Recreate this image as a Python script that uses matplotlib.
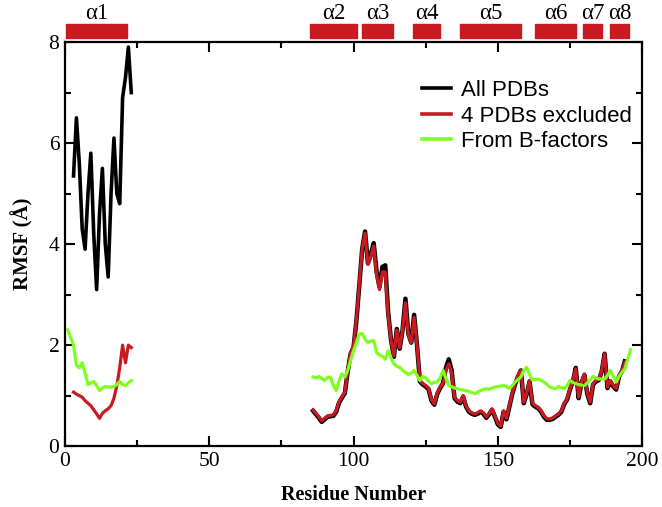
import numpy as np
import matplotlib
matplotlib.use('Agg')
import matplotlib.pyplot as plt
from matplotlib.patches import Rectangle
from matplotlib.ticker import MultipleLocator

# RMSF per residue, N-terminal segment
all_left = [5.35, 6.5, 5.6, 4.3, 3.9, 5.0, 5.8, 4.2, 3.1, 4.6, 5.5,
            4.0, 3.35, 5.0, 6.1, 5.0, 4.8, 6.9, 7.3, 7.9, 7.0]
excl_left = [1.07, 1.03, 1.0, 0.97, 0.9, 0.85, 0.8, 0.72, 0.64, 0.55, 0.65,
             0.7, 0.74, 0.8, 0.95, 1.2, 1.55, 2.0, 1.65, 2.0, 1.95]
bfac_left = [2.3, 2.15, 2.0, 1.6, 1.55, 1.65, 1.45, 1.22, 1.25, 1.28, 1.2, 1.1,
             1.15, 1.18, 1.17, 1.17, 1.18, 1.22, 1.28, 1.22, 1.2, 1.25, 1.3]

# RMSF per residue from residue 86 on
excl_mid = [0.72, 0.65, 0.58, 0.50, 0.55, 0.60, 0.61, 0.62, 0.70, 0.88,
            0.98, 1.07, 1.50, 1.85, 1.97, 2.50, 3.20, 3.90, 4.22, 3.60,
            3.75, 3.96, 3.40, 3.10, 3.45, 3.45, 2.60, 2.10, 1.79, 2.30,
            1.95, 2.30, 2.84, 2.20, 2.05, 2.55, 2.00, 1.30, 1.24, 1.20,
            1.15, 0.92, 0.84, 1.05, 1.17, 1.24, 1.50, 1.63, 1.45, 0.97,
            0.90, 0.87, 1.00, 0.80, 0.70, 0.66, 0.64, 0.66, 0.70, 0.66,
            0.58, 0.65, 0.74, 0.60, 0.45, 0.40, 0.70, 0.55, 0.80, 1.05,
            1.25, 1.40, 1.50, 0.87, 1.05, 1.30, 0.85, 0.80, 0.77, 0.70,
            0.60, 0.54, 0.54, 0.56, 0.60, 0.64, 0.70, 0.85, 0.94, 1.14,
            1.30, 1.53, 0.97, 1.27, 1.43, 1.05, 0.87, 1.24, 1.30, 1.33,
            1.50, 1.83, 1.17, 1.30, 1.20, 1.14, 1.40, 1.50, 1.66]
all_mid = [0.70, 0.63, 0.56, 0.48, 0.53, 0.58, 0.59, 0.60, 0.68, 0.86,
           0.96, 1.05, 1.48, 1.83, 1.95, 2.48, 3.18, 3.90, 4.25, 3.62,
           3.80, 4.02, 3.45, 3.15, 3.55, 3.58, 2.65, 2.10, 1.77, 2.32,
           1.93, 2.30, 2.92, 2.22, 2.05, 2.60, 2.00, 1.28, 1.22, 1.18,
           1.13, 0.90, 0.82, 1.03, 1.15, 1.24, 1.55, 1.72, 1.50, 0.95,
           0.88, 0.85, 0.98, 0.78, 0.68, 0.64, 0.62, 0.64, 0.68, 0.64,
           0.56, 0.63, 0.72, 0.58, 0.43, 0.38, 0.68, 0.53, 0.78, 1.03,
           1.23, 1.38, 1.50, 0.85, 1.03, 1.28, 0.83, 0.78, 0.75, 0.68,
           0.58, 0.52, 0.52, 0.54, 0.58, 0.62, 0.68, 0.83, 0.92, 1.12,
           1.28, 1.55, 0.95, 1.25, 1.41, 1.03, 0.85, 1.22, 1.28, 1.31,
           1.48, 1.83, 1.15, 1.28, 1.18, 1.12, 1.38, 1.48, 1.68]
bfac_mid = [1.37, 1.35, 1.38, 1.34, 1.30, 1.36, 1.37, 1.20, 1.10, 1.30,
            1.43, 1.37, 1.50, 1.70, 1.89, 2.05, 2.22, 2.23, 2.12, 2.05,
            2.08, 2.09, 1.85, 1.80, 1.78, 1.72, 1.89, 1.75, 1.63, 1.58,
            1.56, 1.50, 1.46, 1.42, 1.45, 1.50, 1.40, 1.30, 1.38, 1.35,
            1.28, 1.24, 1.26, 1.27, 1.35, 1.50, 1.35, 1.20, 1.18, 1.15,
            1.14, 1.12, 1.11, 1.10, 1.08, 1.06, 1.04, 1.07, 1.10, 1.12,
            1.14, 1.12, 1.15, 1.17, 1.18, 1.19, 1.20, 1.18, 1.14, 1.20,
            1.27, 1.32, 1.37, 1.50, 1.56, 1.42, 1.31, 1.32, 1.33, 1.30,
            1.27, 1.22, 1.17, 1.15, 1.14, 1.18, 1.16, 1.14, 1.20, 1.30,
            1.26, 1.24, 1.22, 1.21, 1.20, 1.25, 1.32, 1.38, 1.35, 1.33,
            1.33, 1.33, 1.40, 1.50, 1.38, 1.27, 1.38, 1.46, 1.53, 1.73,
            1.91]

# helix positions
helix_names = ['α1', 'α2', 'α3', 'α4', 'α5', 'α6', 'α7', 'α8']
helix_start = [0.3, 85, 103, 120.5, 137, 163, 179.5, 189]
helix_end = [21.6, 101.3, 113.6, 130, 158, 177, 186.2, 195.6]

red = '#c81a20'
green = '#7fff1f'

plt.rcParams['font.family'] = ['Liberation Serif', 'DejaVu Serif']

fig = plt.figure(figsize=(6.62, 5.07), dpi=100)
ax = fig.add_axes([0.098, 0.120, 0.872, 0.797])

res_left = np.arange(3, 3 + len(all_left))
res_bfac_left = np.arange(1, 1 + len(bfac_left))
res_mid = np.arange(86, 86 + len(all_mid))
res_bfac_mid = np.arange(86, 86 + len(bfac_mid))

ax.plot(res_left, all_left, color='black', lw=2.6, label='All PDBs')
ax.plot(res_mid, all_mid, color='black', lw=3.2)
ax.plot(res_left, excl_left, color=red, lw=2.3, label='4 PDBs excluded')
ax.plot(res_mid, excl_mid, color=red, lw=2.3)
ax.plot(res_bfac_left, bfac_left, color=green, lw=2.3, label='From B-factors')
ax.plot(res_bfac_mid, bfac_mid, color=green, lw=2.3)

ax.set_xlim(0, 200)
ax.set_ylim(0, 8)
ax.xaxis.set_major_locator(MultipleLocator(50))
ax.xaxis.set_minor_locator(MultipleLocator(25))
ax.yaxis.set_major_locator(MultipleLocator(2))
ax.yaxis.set_minor_locator(MultipleLocator(1))
ax.tick_params(which='both', direction='in', top=True, right=True,
               labelsize=15.5, width=1.5, pad=4)
ax.tick_params(which='major', length=7)
ax.tick_params(which='minor', length=4)
for s in ax.spines.values():
    s.set_linewidth(1.6)

ax.set_xlabel('Residue Number', fontsize=14.5, fontweight='bold', labelpad=10)
ax.set_ylabel('RMSF (Å)', fontsize=15, fontweight='bold', labelpad=11)

# helix bars above the plot
trans = ax.get_xaxis_transform()
for name, a, b in zip(helix_names, helix_start, helix_end):
    ax.add_patch(Rectangle((a, 1.01), b - a, 0.035, transform=trans,
                           color=red, clip_on=False))
    ax.text((a + b) / 2, 1.07, name, transform=trans, ha='center',
            va='center', fontsize=16.5, clip_on=False)

leg = ax.legend(loc='upper right', bbox_to_anchor=(1.017, 0.955), frameon=False,
                prop={'family': 'Liberation Sans', 'size': 16},
                handlelength=1.3, handletextpad=0.45, labelspacing=0.2)
for h in leg.get_lines():
    h.set_linewidth(2.6)

plt.savefig('out.png', dpi=100)
